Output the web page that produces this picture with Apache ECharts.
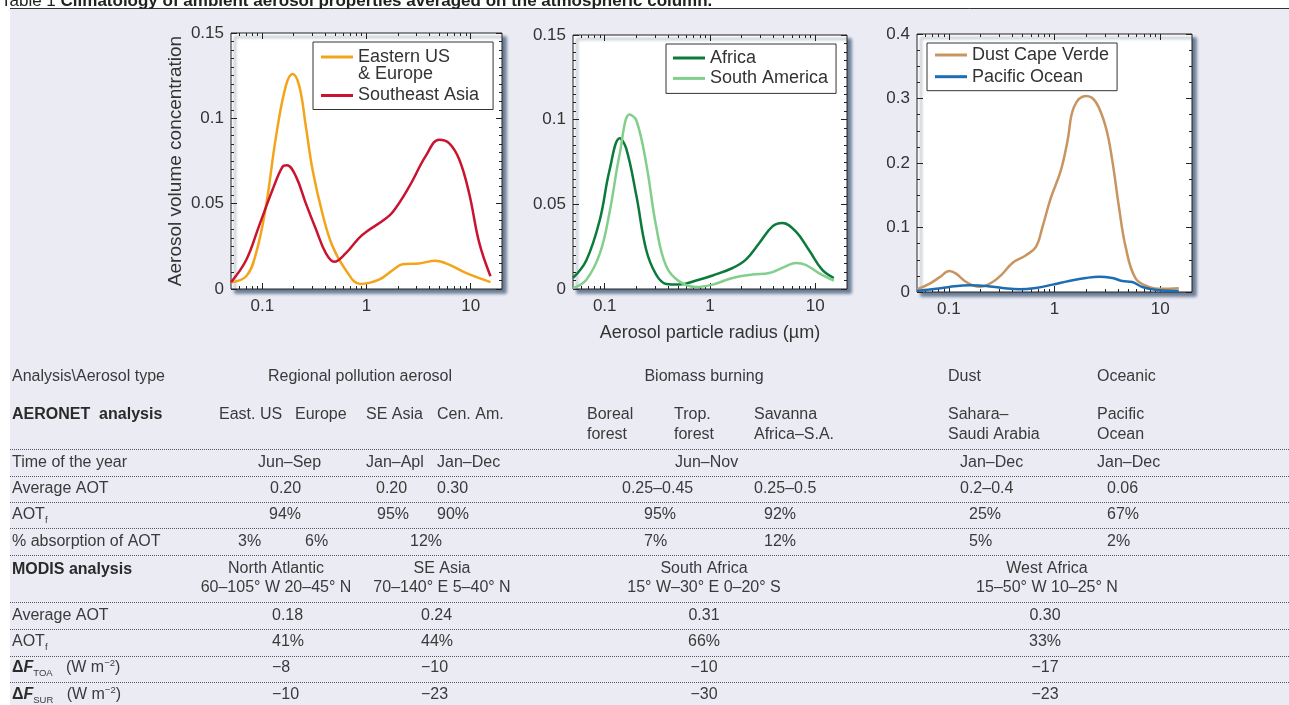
<!DOCTYPE html>
<html><head><meta charset="utf-8">
<script src="https://cdn.jsdelivr.net/npm/echarts@6/dist/echarts.min.js"></script>
<style>html,body{margin:0;padding:0;background:#fff}#c{width:1289px;height:705px}</style>
</head><body><div id="c"></div>
<script>
// ================= DATA =================
// x: aerosol particle radius (µm), y: aerosol volume concentration
const radiusLabels = [0.1, 1, 10];
const radiusMinor = [0.06,0.07,0.08,0.09,0.2,0.3,0.4,0.5,0.6,0.7,0.8,0.9,2,3,4,5,6,7,8,9];

const easternUS = [[0.05,0.004],[0.07,0.0075],[0.087,0.021],[0.108,0.048],[0.135,0.089],[0.168,0.119],[0.195,0.126],[0.226,0.119],[0.262,0.095],[0.303,0.070],[0.378,0.044],[0.472,0.025],[0.634,0.011],[0.87,0.003],[1.32,0.0055],[1.78,0.011],[2.22,0.0145],[3.2,0.015],[4.6,0.0165],[6.2,0.0143],[9.0,0.0094],[15.5,0.004]];
const southeastAsia = [[0.05,0.004],[0.07,0.017],[0.093,0.037],[0.125,0.058],[0.156,0.0715],[0.172,0.0725],[0.21,0.066],[0.262,0.050],[0.327,0.035],[0.407,0.021],[0.49,0.016],[0.634,0.021],[0.85,0.030],[1.02,0.034],[1.43,0.040],[1.78,0.045],[2.57,0.060],[3.71,0.078],[4.98,0.0875],[6.2,0.0855],[7.76,0.076],[9.68,0.056],[12.1,0.027],[15.5,0.0075]];
const africa = [[0.05,0.0065],[0.067,0.017],[0.09,0.041],[0.111,0.070],[0.139,0.089],[0.16,0.083],[0.2,0.055],[0.248,0.023],[0.308,0.0085],[0.384,0.003],[0.51,0.0026],[0.74,0.005],[1.06,0.008],[1.64,0.0124],[2.19,0.0173],[2.93,0.027],[3.92,0.037],[4.87,0.039],[6.52,0.034],[8.7,0.023],[11.6,0.0114],[15,0.0065]];
const southAmerica = [[0.05,0.0005],[0.067,0.0055],[0.09,0.021],[0.111,0.045],[0.139,0.080],[0.172,0.103],[0.2,0.0995],[0.248,0.074],[0.308,0.037],[0.384,0.0134],[0.51,0.0045],[0.74,0.0012],[1.06,0.0026],[1.64,0.0065],[2.54,0.0085],[3.64,0.0094],[5.24,0.0134],[6.52,0.0153],[8.1,0.0143],[10.8,0.0094],[15,0.005]];
const dustCapeVerde = [[0.05,0.004],[0.066,0.013],[0.082,0.023],[0.101,0.0326],[0.117,0.0285],[0.146,0.0155],[0.195,0.008],[0.26,0.0155],[0.323,0.0285],[0.40,0.045],[0.537,0.057],[0.667,0.070],[0.77,0.101],[0.92,0.145],[1.15,0.189],[1.33,0.235],[1.53,0.287],[1.98,0.304],[2.45,0.295],[3.05,0.256],[3.52,0.204],[4.07,0.132],[4.71,0.070],[5.85,0.021],[7.8,0.008],[10.4,0.005],[15,0.006]];
const pacificOcean = [[0.05,0.0016],[0.076,0.005],[0.101,0.0078],[0.157,0.0103],[0.225,0.0093],[0.323,0.0062],[0.464,0.0041],[0.667,0.0062],[0.957,0.0114],[1.375,0.017],[1.98,0.0217],[2.64,0.0238],[3.52,0.0217],[4.38,0.017],[5.44,0.0155],[6.77,0.0078],[9.7,0.0026],[15,0.0016]];

const seriesNames = ['Eastern US\n& Europe','Southeast Asia','Africa','South America','Dust Cape Verde','Pacific Ocean'];
const yMaxes = [0.15, 0.15, 0.4];
const yIntervals = [0.05, 0.05, 0.1];

// ---- table text ----
const title = ['Table 1 ', 'Climatology of ambient aerosol properties averaged on the atmospheric column.'];
const rowLabels = ['Analysis\\Aerosol type','AERONET  analysis','Time of the year','Average AOT','{a|AOT}{s|f}','% absorption of AOT','MODIS analysis','Average AOT','{a|AOT}{s|f}','{d|Δ}{f|F}{s|TOA}{a|   (W m}{p|−2}{a|)}','{d|Δ}{f|F}{s|SUR}{a|   (W m}{p|−2}{a|)}'];
const aerosolTypes = ['Regional pollution aerosol','Biomass burning','Dust','Oceanic'];
const aeronetSites = ['East. US','Europe','SE Asia','Cen. Am.','Boreal\nforest','Trop.\nforest','Savanna\nAfrica–S.A.','Sahara–\nSaudi Arabia','Pacific\nOcean'];
const timeOfYear = ['Jun–Sep','Jan–Apl','Jan–Dec','Jun–Nov','Jan–Dec','Jan–Dec'];
const aeronetAOT = ['0.20','0.20','0.30','0.25–0.45','0.25–0.5','0.2–0.4','0.06'];
const aeronetAOTf = ['94%','95%','90%','95%','92%','25%','67%'];
const absorptionAOT = ['3%','6%','12%','7%','12%','5%','2%'];
const modisRegions = ['North Atlantic\n60–105° W 20–45° N','SE Asia\n70–140° E 5–40° N','South Africa\n15° W–30° E 0–20° S','West Africa\n15–50° W 10–25° N'];
const modisAOT = ['0.18','0.24','0.31','0.30'];
const modisAOTf = ['41%','44%','66%','33%'];
const modisFtoa = ['−8','−10','−10','−17'];
const modisFsur = ['−10','−23','−30','−23'];

// ================= LAYOUT =================
const FONT = "'Liberation Sans', Arial, Helvetica, sans-serif";
const INK = '#333';
const grids = [
  {left:231, top:33, width:271, height:256},
  {left:573, top:35, width:274, height:254},
  {left:917, top:34, width:275, height:258}
];
const yMinorSplit = [10, 10, 4];
// row centre y (for two-line header rows: top of first line)
const rowY = [377, 405, 463, 489, 515, 542, 559.5, 616, 642, 668, 695];
const rowTopAligned = [false, true, false, false, false, false, true, false, false, false, false];
const dottedY = [449.5, 476.5, 502.5, 528.5, 555.5, 602.5, 629.5, 656.5, 682.5];
const L = (xs) => xs.map(x => [x, 'left']);
const C = (xs) => xs.map(x => [x, 'center']);
const typeCols = [[360,'center'],[704,'center'],[948,'left'],[1097,'left']];
const siteCols = L([219,295,366,437,587,674,754,948,1097]);
const timeCols = L([258,366,437,675,960,1097]);
const aotCols = L([270,376,437,622,754,960,1107]);
const aotfCols = L([269,377,437,644,764,969,1107]);
const absCols = L([238,305,410,644,764,969,1107]);
const modisHeadCols = C([276,442,704,1047]);
const modisCols = [[272,'left'],[421,'left'],[704,'center'],[1045,'center']];

const el = [];
el.push({type:'rect', shape:{x:0,y:0,width:1289,height:9}, style:{fill:'#fff'}, z:1, silent:true});
el.push({type:'rect', shape:{x:0,y:0,width:10,height:705}, style:{fill:'#fff'}, z:1, silent:true});
el.push({type:'line', shape:{x1:10,y1:8.5,x2:1289,y2:8.5}, style:{stroke:'#333',lineWidth:1}, z:2, silent:true});
el.push({type:'text', x:1, y:10, z:3, silent:true, style:{
  text:'{n|'+title[0]+'}{b|'+title[1]+'}', verticalAlign:'bottom', align:'left',
  rich:{n:{fontSize:17,fontFamily:FONT,fill:'#222'}, b:{fontSize:17,fontFamily:FONT,fontWeight:'bold',fill:'#222'}}}});
dottedY.forEach(y => el.push({type:'line', shape:{x1:10,y1:y,x2:1289,y2:y}, style:{stroke:'#555',lineWidth:1,lineDash:[1,1]}, z:2, silent:true}));

const richLab = {
  a:{fontSize:16,fontFamily:FONT,fill:'#3a3a3a',lineHeight:20},
  s:{fontSize:9.5,fontFamily:FONT,fill:'#3a3a3a',lineHeight:10,verticalAlign:'bottom'},
  d:{fontSize:16,fontFamily:FONT,fill:'#2a2a2a',fontWeight:'bold',lineHeight:20},
  f:{fontSize:16,fontFamily:FONT,fill:'#2a2a2a',fontStyle:'italic',fontWeight:'bold',lineHeight:20},
  p:{fontSize:9.5,fontFamily:FONT,fill:'#3a3a3a',lineHeight:10,verticalAlign:'top'}
};
function addText(text, x, y, align, extra) {
  const style = Object.assign({text:text, fontSize:16, fontFamily:FONT, fill:'#3a3a3a', align:align||'left', verticalAlign:'middle', lineHeight:20}, extra||{});
  el.push({type:'text', x:x, y:y, z:3, silent:true, style:style});
}
rowLabels.forEach((t, i) => {
  const bold = (i === 1 || i === 6);
  const va = rowTopAligned[i] ? {verticalAlign:'top'} : {};
  if (t.indexOf('{') === 0) addText(t, 12, rowY[i], 'left', Object.assign({rich:richLab}, va));
  else addText(t, 12, rowY[i], 'left', Object.assign(bold ? {fontWeight:'bold', fill:'#2a2a2a'} : {}, va));
});
function addRow(values, cols, rowIdx, extra) {
  const va = rowTopAligned[rowIdx] ? {verticalAlign:'top'} : {};
  values.forEach((v, i) => addText(v, cols[i][0], rowY[rowIdx], cols[i][1], Object.assign({}, va, extra||{})));
}
addRow(aerosolTypes, typeCols, 0);
addRow(aeronetSites, siteCols, 1);
addRow(timeOfYear, timeCols, 2);
addRow(aeronetAOT, aotCols, 3);
addRow(aeronetAOTf, aotfCols, 4);
addRow(absorptionAOT, absCols, 5);
addRow(modisRegions, modisHeadCols, 6, {lineHeight:19});
addRow(modisAOT, modisCols, 7);
addRow(modisAOTf, modisCols, 8);
addRow(modisFtoa, modisCols, 9);
addRow(modisFsur, modisCols, 10);

// ================= AXES =================
const xAxes = [], yAxes = [];
const tickStyle = {color:'#222', width:1};
grids.forEach((g, i) => {
  ['bottom','top'].forEach(pos => {
    xAxes.push({gridIndex:i, type:'log', logBase:10, min:0.05, max:20, position:pos,
      axisLine:{show:false}, splitLine:{show:false},
      axisTick:{inside:true, length:6, customValues:radiusLabels, lineStyle:tickStyle},
      axisLabel:{show:pos==='bottom', customValues:radiusLabels, formatter:(v)=>String(+(+v).toPrecision(3)), fontSize:17, fontFamily:FONT, color:INK, margin:9},
      name: (i===1 && pos==='bottom') ? 'Aerosol particle radius (µm)' : '',
      nameLocation:'middle', nameGap:35, nameTextStyle:{fontSize:18, fontFamily:FONT, color:INK}
    });
    xAxes.push({gridIndex:i, type:'log', logBase:10, min:0.05, max:20, position:pos,
      axisLine:{show:false}, splitLine:{show:false},
      axisTick:{inside:true, length:3, customValues:radiusMinor, lineStyle:tickStyle},
      axisLabel:{show:false}
    });
  });
  ['left','right'].forEach(pos => {
    yAxes.push({gridIndex:i, type:'value', min:0, max:yMaxes[i], interval:yIntervals[i], position:pos,
      axisLine:{show:false}, splitLine:{show:false},
      axisTick:{inside:true, length:6, lineStyle:tickStyle},
      minorTick:{show:true, splitNumber:yMinorSplit[i], length:3, lineStyle:tickStyle},
      axisLabel:{show:pos==='left', fontSize:17, fontFamily:FONT, color:INK, margin:7},
      name: (i===0 && pos==='left') ? 'Aerosol volume concentration' : '',
      nameLocation:'middle', nameGap:46, nameTextStyle:{fontSize:19, fontFamily:FONT, color:INK}
    });
  });
});

// ================= SERIES =================
const seriesData = [easternUS, southeastAsia, africa, southAmerica, dustCapeVerde, pacificOcean];
const seriesColors = ['#f4a41b','#c8142f','#0b7a3a','#82cf8c','#c8945f','#1c6db2'];
const seriesGrid = [0,0,1,1,2,2];
const series = seriesData.map((d, k) => ({
  type:'line', name:seriesNames[k], data:d,
  xAxisIndex: seriesGrid[k]*4, yAxisIndex: seriesGrid[k]*2,
  showSymbol:false, smooth:0.4, color:seriesColors[k],
  lineStyle:{width:2.5, color:seriesColors[k]}, z:5, animation:false
}));

const legendBase = {orient:'vertical', selectedMode:false, borderColor:'#333', borderWidth:1, backgroundColor:'#fff',
  itemWidth:32, itemStyle:{borderWidth:0}, textStyle:{fontSize:18, fontFamily:FONT, color:INK, lineHeight:17}};
const lineIcon = 'path://M0,0H32V3H0Z';
const legends = [
  Object.assign({}, legendBase, {left:313, top:42, itemHeight:20, itemGap:2.5, padding:[6,14,4,8],
    data:[{name:seriesNames[0], icon:'path://M0,0H32V3H0ZM0,20'}, {name:seriesNames[1], icon:'path://M0,8.5H32V11.5H0ZM0,0M0,20'}]}),
  Object.assign({}, legendBase, {left:666, top:44, itemHeight:3, itemGap:2.4, padding:[5,8,6,7],
    data:[{name:seriesNames[2], icon:lineIcon}, {name:seriesNames[3], icon:lineIcon}]}),
  Object.assign({}, legendBase, {left:927, top:43, itemHeight:3, itemGap:3.7, padding:[3,8,5,8],
    data:[{name:seriesNames[4], icon:lineIcon}, {name:seriesNames[5], icon:lineIcon}]})
];

const chart = echarts.init(document.getElementById('c'), null, {renderer:'canvas'});
chart.setOption({
  backgroundColor:'#ebebf4',
  animation:false,
  textStyle:{fontFamily:FONT},
  grid: grids.map(g => Object.assign({show:true, backgroundColor:'#fff', borderColor:'#222', borderWidth:1,
    shadowColor:'rgba(60,85,115,0.75)', shadowBlur:3, shadowOffsetX:4, shadowOffsetY:4}, g)),
  xAxis: xAxes, yAxis: yAxes,
  legend: legends,
  series: series,
  graphic: {elements: el}
});
</script></body></html>
